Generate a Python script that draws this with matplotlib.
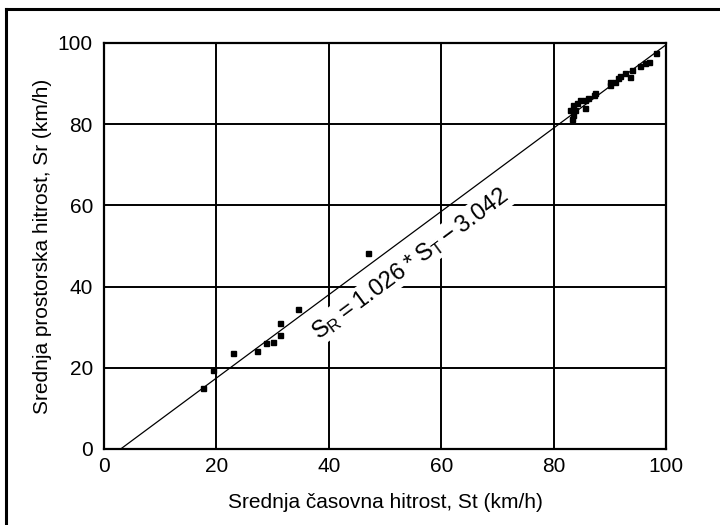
import numpy as np
import matplotlib
matplotlib.use('Agg')
import matplotlib.pyplot as plt
from matplotlib.lines import Line2D

# measured speeds (km/h): time-mean St vs space-mean Sr
st = [17.7, 19.4, 23.0, 27.2, 28.9, 30.1, 31.3, 31.4, 34.6, 47.0,
      82.9, 83.2, 83.5, 83.5, 83.8, 84.1, 84.7, 85.6, 85.6, 86.2,
      87.1, 87.4, 90.0, 90.0, 90.9, 91.5, 91.8, 92.7, 93.6, 93.9,
      95.4, 96.3, 96.9, 98.3]
sr = [15.1, 19.5, 23.7, 24.2, 26.0, 26.4, 31.1, 28.1, 34.6, 48.3,
      83.5, 81.4, 82.3, 84.7, 83.5, 85.1, 86.0, 86.0, 83.9, 86.4,
      87.2, 87.6, 89.7, 90.5, 90.5, 91.3, 91.9, 92.5, 91.7, 93.3,
      94.3, 95.0, 95.4, 97.6]

# regression SR = a*ST + b
a, b = 1.026, -3.042
ticks = [0, 20, 40, 60, 80, 100]

matplotlib.rc('font', family=['Liberation Sans', 'DejaVu Sans'], size=15)

fig = plt.figure(figsize=(7.2, 5.25), dpi=100)
ax = fig.add_axes([104 / 720, 1 - 449 / 525, 562 / 720, 406 / 525])

ax.set_xlim(0, 100)
ax.set_ylim(0, 100)
ax.set_xticks(ticks)
ax.set_yticks(ticks)
ax.grid(True, color='black', lw=1.4, zorder=1)
ax.set_axisbelow(True)
ax.tick_params(length=0, pad=8)
ax.tick_params(axis='x', pad=6)
for sp in ax.spines.values():
    sp.set_linewidth(1.6)

# regression line from its x-intercept to the right edge
x0 = -b / a
xl = np.array([x0, 100])
ax.plot(xl, a * xl + b, color='black', lw=0.9, zorder=4)

ax.plot(st, sr, 's', color='black', ms=3.6, zorder=5)

ax.text(54.5, 45.6, r'$\mathregular{S_R = 1.026 * S_T - 3.042}$',
        ha='center', va='center', rotation=45.7, rotation_mode='anchor',
        transform_rotates_text=True, fontsize=17, zorder=3,
        bbox=dict(facecolor='white', edgecolor='none', pad=1))

ax.set_xlabel('Srednja časovna hitrost, St (km/h)', labelpad=12)
ax.set_ylabel('Srednja prostorska hitrost, Sr (km/h)', labelpad=4)

# outer frame, open on the right and bottom
fig.add_artist(Line2D([6 / 720, 6 / 720], [0, 1 - 9 / 525], color='black', lw=2.2,
                      transform=fig.transFigure))
fig.add_artist(Line2D([6 / 720, 1], [1 - 9 / 525, 1 - 9 / 525], color='black', lw=2.2,
                      transform=fig.transFigure))

fig.savefig('out.png', dpi=100, facecolor='white')
